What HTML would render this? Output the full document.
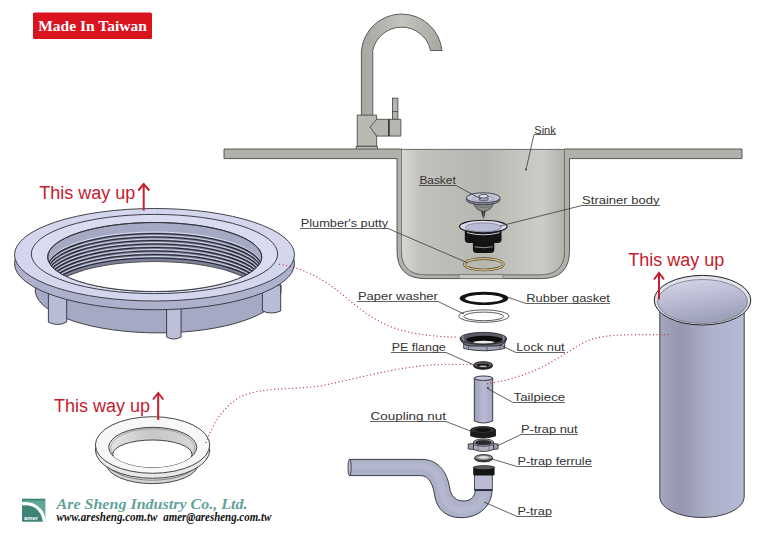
<!DOCTYPE html>
<html><head><meta charset="utf-8"><style>
html,body{margin:0;padding:0;background:#fff;width:768px;height:543px;overflow:hidden}
svg{display:block}
.lb{font-family:"Liberation Sans",sans-serif;font-size:11.5px;fill:#333}
.ul{stroke:#3a3a3a;stroke-width:0.8;fill:none}
.red{font-family:"Liberation Sans",sans-serif;font-size:18px;fill:#c4202e}
.dot{fill:none;stroke:#b8404e;stroke-width:1.2;stroke-dasharray:1.1 2.5}
.ol{stroke:#2c2c30;stroke-width:0.9}
</style></head><body>
<svg width="768" height="543" viewBox="0 0 768 543">
<defs>
  <linearGradient id="sinkG" x1="0" x2="1" y1="0" y2="0">
    <stop offset="0" stop-color="#d8d8d2"/>
    <stop offset="0.12" stop-color="#c2c2bc"/>
    <stop offset="0.5" stop-color="#b7b7b1"/>
    <stop offset="0.86" stop-color="#cdcdc7"/>
    <stop offset="1" stop-color="#b2b2ac"/>
  </linearGradient>
  <linearGradient id="faucG" x1="0" x2="1" y1="0" y2="0">
    <stop offset="0" stop-color="#a6a6a0"/>
    <stop offset="0.5" stop-color="#c4c4be"/>
    <stop offset="1" stop-color="#a8a8a2"/>
  </linearGradient>
  <linearGradient id="cylG" x1="0" x2="1" y1="0" y2="0">
    <stop offset="0" stop-color="#a4a7bd"/>
    <stop offset="0.25" stop-color="#9497ae"/>
    <stop offset="0.6" stop-color="#aeb1ca"/>
    <stop offset="1" stop-color="#b6bad6"/>
  </linearGradient>
  <linearGradient id="pipeG" x1="0" x2="1" y1="0" y2="0">
    <stop offset="0" stop-color="#9c9fb8"/>
    <stop offset="0.5" stop-color="#b8bbd2"/>
    <stop offset="1" stop-color="#a4a7c0"/>
  </linearGradient>
  <linearGradient id="nutTop" x1="0" x2="0" y1="0" y2="1">
    <stop offset="0" stop-color="#c9cce4"/>
    <stop offset="1" stop-color="#d8dbf0"/>
  </linearGradient>
  <clipPath id="holeClip"><ellipse cx="154.7" cy="257" rx="107" ry="34.5"/></clipPath>
  <clipPath id="ringHole"><ellipse cx="152.7" cy="447.3" rx="44" ry="20"/></clipPath>
  <linearGradient id="wallG" x1="0" x2="1" y1="0" y2="0"><stop offset="0" stop-color="#e4e4e4"/><stop offset="0.5" stop-color="#c6c6c6"/><stop offset="1" stop-color="#d8d8d8"/></linearGradient>
  <linearGradient id="cylIn" x1="0" x2="0.3" y1="0" y2="1"><stop offset="0" stop-color="#d6d9ec"/><stop offset="0.6" stop-color="#b4b7ce"/><stop offset="1" stop-color="#9ea1ba"/></linearGradient>
</defs>

<!-- Made In Taiwan badge -->
<rect x="33" y="12.5" width="119" height="26.5" rx="1.5" fill="#d9141f"/>
<text x="92.5" y="30.8" text-anchor="middle" font-family="Liberation Serif" font-weight="bold" font-size="15.5" fill="#fff">Made In Taiwan</text>

<!-- Faucet -->
<g stroke="#3e3e3c" stroke-width="0.8" fill="url(#faucG)">
  <path d="M361.4,115.5 L361.4,50.5 A40.5,40.5 0 0 1 442,50.5 L430.5,50.5 A29.5,29.5 0 0 0 372.8,50.5 L372.8,115.5 Z"/>
  <rect x="392.5" y="98.1" width="5.4" height="21.2" fill="#b4b4ae"/>
  <line x1="392.5" y1="111.6" x2="397.9" y2="111.6"/>
  <path d="M357.2,115.1 L376.6,115.1 L376.6,146.3 L357.2,146.3 Z" fill="#b9b9b3"/>
  <path d="M376.6,119.3 L400.9,119.3 L400.9,136.1 L376.6,136.1 L370.1,127.1 Z" fill="#b6b6b0"/>
  <rect x="356.2" y="146.3" width="21.3" height="3.2" fill="#c0c0ba"/>
</g>
<line x1="388.9" y1="119.3" x2="388.9" y2="136.1" stroke="#2e2e2c" stroke-width="1.6"/>

<!-- Sink outer wall + counter -->
<path d="M224,149 L401.5,149 L401.5,250.7 Q401.5,274.7 425.5,274.7 L540.5,274.7 Q564.5,274.7 564.5,250.7 L564.5,149 L742,149 L742,158.6 L569.5,158.6 L569.5,250.6 Q569.5,278.6 541.5,278.6 L425,278.6 Q397,278.6 397,250.6 L397,158.6 L224,158.6 Z" fill="#b1b1ab" stroke="#4a4a48" stroke-width="0.9"/>
<!-- Sink inner -->
<path d="M401.5,149.6 L401.5,250.7 Q401.5,274.7 425.5,274.7 L540.5,274.7 Q564.5,274.7 564.5,250.7 L564.5,149.6" fill="url(#sinkG)" stroke="#6a6a66" stroke-width="0.7"/>
<line x1="401.5" y1="149.4" x2="564.5" y2="149.4" stroke="#5a5a58" stroke-width="0.9"/>
<rect x="459" y="274.7" width="44" height="3.9" fill="#c8c8c2" stroke="#6a6a66" stroke-width="0.6"/>

<!-- Putty ring -->
<ellipse cx="483.8" cy="264.3" rx="19.5" ry="5.7" fill="none" stroke="#4a4030" stroke-width="2.6"/>
<ellipse cx="483.8" cy="264.3" rx="19.5" ry="5.7" fill="none" stroke="#d8c080" stroke-width="1.4"/>

<!-- Strainer body -->
<g>
  <path d="M472.9,241 L472.9,249.5 Q472.9,253 477,253 L490.2,253 Q494.3,253 494.3,249.5 L494.3,241 Z" fill="#121212"/>
  <path d="M474.5,246.8 Q483.6,248.6 492.7,246.8" stroke="#a0a0a0" stroke-width="0.9" fill="none"/>
  <path d="M464.8,228 L464.8,239.5 Q464.8,243 469,243 L497.3,243 Q501.5,243 501.5,239.5 L501.5,228 Z" fill="#141414"/>
  <path d="M467,232.6 Q483.3,237 499.5,232.6" stroke="#d0d2e0" stroke-width="1" fill="none"/>
  <ellipse cx="483.3" cy="226.5" rx="23.8" ry="6.2" fill="#dadcf0" stroke="#1a1a1e" stroke-width="1.1"/>
  <ellipse cx="483.3" cy="227.3" rx="18" ry="4.4" fill="#babdd6" stroke="#50525e" stroke-width="0.5"/>
</g>

<!-- Basket -->
<g>
  <path d="M481.2,210.5 L485.6,210.5 L484.6,216 L483.4,218.6 L482.2,216 Z" fill="#2a2a2a"/>
  <line x1="483.4" y1="211" x2="483.4" y2="217" stroke="#9a9a9a" stroke-width="0.6"/>
  <path d="M473.9,203.5 L493.2,203.5 Q492,210 483.5,211.5 Q475,210 473.9,203.5 Z" fill="#8e8e8c" stroke="#2e2e2e" stroke-width="0.7"/>
  <path d="M476,206.5 Q483.5,209 491,206.5" fill="none" stroke="#555" stroke-width="0.6"/>
  <ellipse cx="483.2" cy="199.6" rx="16.9" ry="5.3" fill="#8c8fa6" stroke="#2a2a30" stroke-width="0.8"/>
  <ellipse cx="483.2" cy="197.8" rx="16.9" ry="5" fill="#c4c6da" stroke="#2a2a30" stroke-width="0.8"/>
  <ellipse cx="483.2" cy="198.6" rx="11" ry="2.6" fill="none" stroke="#8a8ca0" stroke-width="0.6"/>
  <path d="M479.2,196.2 L479.2,200 Q483.6,202 488,200 L488,196.2 Z" fill="#a4a6ba" stroke="#2a2a30" stroke-width="0.6"/>
  <ellipse cx="483.6" cy="196.2" rx="4.4" ry="1.8" fill="#dfe1ee" stroke="#2a2a30" stroke-width="0.7"/>
</g>

<!-- Labels (sink region) -->
<g class="lb">
  <text x="534.3" y="133.5" textLength="21.5" lengthAdjust="spacingAndGlyphs">Sink</text>
  <text x="419.4" y="184" textLength="36.3" lengthAdjust="spacingAndGlyphs">Basket</text>
  <text x="582.1" y="204" textLength="77.4" lengthAdjust="spacingAndGlyphs">Strainer body</text>
  <text x="300.8" y="226.9" textLength="87.4" lengthAdjust="spacingAndGlyphs">Plumber's putty</text>
  <text x="357.9" y="299.7" textLength="80" lengthAdjust="spacingAndGlyphs">Paper washer</text>
  <text x="526.2" y="301.8" textLength="83.7" lengthAdjust="spacingAndGlyphs">Rubber gasket</text>
  <text x="391.8" y="350.6" textLength="54" lengthAdjust="spacingAndGlyphs">PE flange</text>
  <text x="516.2" y="350.8" textLength="48.5" lengthAdjust="spacingAndGlyphs">Lock nut</text>
  <text x="513.6" y="400.9" textLength="51.6" lengthAdjust="spacingAndGlyphs">Tailpiece</text>
  <text x="370.6" y="420" textLength="75.3" lengthAdjust="spacingAndGlyphs">Coupling nut</text>
  <text x="521" y="433.3" textLength="56.6" lengthAdjust="spacingAndGlyphs">P-trap nut</text>
  <text x="517.4" y="465.2" textLength="74.4" lengthAdjust="spacingAndGlyphs">P-trap ferrule</text>
  <text x="517.4" y="514.5" textLength="34.6" lengthAdjust="spacingAndGlyphs">P-trap</text>
</g>

<circle cx="526" cy="169.5" r="0.9" fill="#333"/>

<!-- Big lock nut (left) -->
<g>
  <!-- skirt -->
  <path d="M35.3,285 L35.3,292 A123,43 0 0 0 281,292 L281,285 Z" fill="#a6a9c4" stroke="#303036" stroke-width="0.9"/>
  <path d="M48.4,285 L48.4,322 Q57.5,327 66.7,322 L66.7,285 Z" fill="#b9bcd6" stroke="#303036" stroke-width="0.9"/>
  <path d="M166.6,306 L166.6,337 Q173.8,341 181.1,337 L181.1,306 Z" fill="#bcbfd8" stroke="#303036" stroke-width="0.9"/>
  <path d="M262.4,285 L262.4,311 Q271.5,315 280.7,311 L280.7,285 Z" fill="#b9bcd6" stroke="#303036" stroke-width="0.9"/>
  <!-- flange side -->
  <ellipse cx="154.5" cy="263.5" rx="140" ry="46.25" fill="#aeb1cc" stroke="#303036" stroke-width="0.9"/>
  <!-- top face -->
  <ellipse cx="154.5" cy="254.75" rx="140" ry="46.25" fill="#d3d6ed" stroke="#303036" stroke-width="0.9"/>
  <ellipse cx="154.5" cy="254" rx="123.2" ry="39.6" fill="#d9dcf0" stroke="#2e2e38" stroke-width="0.9"/>
  <!-- hole -->
  <ellipse cx="154.7" cy="257" rx="107" ry="34.5" fill="#a6a9c3" stroke="#303036" stroke-width="0.9"/>
  <g clip-path="url(#holeClip)" fill="none" stroke="#24262e" stroke-width="1.1">
    <ellipse cx="154.7" cy="267" rx="107" ry="34.5" fill="#7c7f98" stroke="none"/>
    <ellipse cx="154.7" cy="268" rx="107" ry="34.5" stroke="#dfe2f4" stroke-width="0.9" transform="translate(0,-1.5)"/>
    <ellipse cx="154.7" cy="268" rx="107" ry="34.5"/>
    <ellipse cx="154.7" cy="271.5" rx="107" ry="34.5" stroke="#dfe2f4" stroke-width="0.9" transform="translate(0,-1.5)"/>
    <ellipse cx="154.7" cy="271.5" rx="107" ry="34.5"/>
    <ellipse cx="154.7" cy="275" rx="107" ry="34.5" stroke="#dfe2f4" stroke-width="0.9" transform="translate(0,-1.5)"/>
    <ellipse cx="154.7" cy="275" rx="107" ry="34.5"/>
    <ellipse cx="154.7" cy="278.5" rx="107" ry="34.5" stroke="#dfe2f4" stroke-width="0.9" transform="translate(0,-1.5)"/>
    <ellipse cx="154.7" cy="278.5" rx="107" ry="34.5"/>
    <ellipse cx="154.7" cy="282" rx="107" ry="34.5" stroke="#dfe2f4" stroke-width="0.9" transform="translate(0,-1.5)"/>
    <ellipse cx="154.7" cy="282" rx="107" ry="34.5"/>
    <ellipse cx="154.7" cy="285.5" rx="107" ry="34.5" stroke="#dfe2f4" stroke-width="0.9" transform="translate(0,-1.5)"/>
    <ellipse cx="154.7" cy="285.5" rx="107" ry="34.5"/>
    <ellipse cx="154.7" cy="289" rx="107" ry="34.5" stroke="#dfe2f4" stroke-width="0.9" transform="translate(0,-1.5)"/>
    <ellipse cx="154.7" cy="289" rx="107" ry="34.5"/>
    <ellipse cx="154.7" cy="292.5" rx="107" ry="34.5" stroke="#dfe2f4" stroke-width="0.9" transform="translate(0,-1.5)"/>
    <ellipse cx="154.7" cy="292.5" rx="107" ry="34.5"/>
    <ellipse cx="154.7" cy="296" rx="107" ry="34.5" fill="#fff" stroke="#555"/>
  </g>
  <ellipse cx="154.7" cy="257" rx="107" ry="34.5" fill="none" stroke="#303036" stroke-width="0.9"/>
</g>

<!-- Small ring (left bottom) -->
<g stroke="#333" stroke-width="0.9">
  <ellipse cx="152.3" cy="463.6" rx="46" ry="20" fill="#d6d6d6"/>
  <ellipse cx="152.3" cy="460.2" rx="46" ry="20" fill="#e2e2e2" stroke="#555" stroke-width="0.7"/>
  <ellipse cx="152.6" cy="450" rx="57.2" ry="28.3" fill="#e8e8e8"/>
  <ellipse cx="152.6" cy="445" rx="57.2" ry="28.3" fill="#f7f7f7"/>
  <ellipse cx="152.7" cy="447.3" rx="44" ry="20" fill="url(#wallG)"/>
  <ellipse cx="152.7" cy="447.8" rx="42" ry="19" fill="none" stroke="#777" stroke-width="0.5"/>
  <ellipse cx="152.4" cy="454.2" rx="39.6" ry="14.2" fill="#fff" clip-path="url(#ringHole)"/>
</g>

<!-- Right cylinder -->
<g>
  <path d="M659.8,300 L659.8,497 A42.2,20.5 0 0 0 744.2,497 L744.2,300 Z" fill="url(#cylG)" stroke="#303036" stroke-width="0.9"/>
  <ellipse cx="702.5" cy="300.2" rx="48.3" ry="24.8" fill="#e0e2ee" stroke="#222" stroke-width="1"/>
  <ellipse cx="702.5" cy="301.5" rx="45" ry="22" fill="url(#cylIn)" stroke="#555" stroke-width="0.6"/>
</g>

<!-- Center column parts -->
<!-- Rubber gasket -->
<path fill-rule="evenodd" fill="#121212" d="M459.6,298.3 A24.4,6.6 0 1 0 508.4,298.3 A24.4,6.6 0 1 0 459.6,298.3 Z M465.1,298.6 A18.9,3.8 0 1 0 502.9,298.6 A18.9,3.8 0 1 0 465.1,298.6 Z"/>
<!-- Paper washer -->
<ellipse cx="483.8" cy="316.1" rx="25.1" ry="6.2" fill="#fff" stroke="#333" stroke-width="0.8"/>
<ellipse cx="483.8" cy="316.4" rx="19.9" ry="4.3" fill="#fff" stroke="#333" stroke-width="0.8"/>
<!-- Lock nut small -->
<g stroke="#1a1a1e" stroke-width="0.8">
  <path d="M460.5,338.5 L463.7,344 L463.7,348.5 Q484,353 504.7,348.5 L504.7,344 L506.3,338.5 Z" fill="#a4a6b8"/>
  <line x1="468.5" y1="345" x2="468.5" y2="350" stroke="#555"/>
  <line x1="487" y1="346.5" x2="487" y2="351.5" stroke="#555"/>
  <line x1="500" y1="345.5" x2="500" y2="350" stroke="#555"/>
  <path d="M460,338.5 Q462,345 470,346 L497,346 Q505,345 506.5,338.5 Z" fill="#6a6c7a"/>
  <ellipse cx="483.3" cy="338.4" rx="23.3" ry="6" fill="#585a68"/>
  <ellipse cx="484.4" cy="339.6" rx="18.4" ry="3.8" fill="#0c0c0c" stroke="none"/>
  <ellipse cx="483.8" cy="342.1" rx="10.8" ry="1.3" fill="#eeeeee" stroke="none"/>
  <path d="M463,336 Q462,339 464,341" fill="none" stroke="#9a9cae" stroke-width="1"/>
  <path d="M503.5,336 Q505,339 502.5,341" fill="none" stroke="#9a9cae" stroke-width="1"/>
</g>
<!-- PE flange small -->
<ellipse cx="483.1" cy="365.9" rx="9.4" ry="3.4" fill="#2a2a2a" stroke="#111" stroke-width="0.9"/>
<ellipse cx="483.1" cy="364.9" rx="9.4" ry="3.2" fill="#606068" stroke="#111" stroke-width="0.9"/>
<ellipse cx="483.1" cy="365.3" rx="6.6" ry="1.9" fill="#1a1a1a"/>
<ellipse cx="483.1" cy="366.2" rx="4" ry="0.7" fill="#bbb"/>
<!-- Tailpiece -->
<path d="M474.3,378 L474.3,421 Q483.5,425 492.7,421 L492.7,378 Z" fill="url(#pipeG)" stroke="#2a2a30" stroke-width="0.9"/>
<ellipse cx="483.5" cy="378.2" rx="9.2" ry="2.2" fill="#c8cade" stroke="#2a2a30" stroke-width="0.9"/>
<circle cx="488" cy="388" r="0.9" fill="#333"/>
<!-- Coupling nut -->
<path d="M470.7,430 L470.7,436 Q483,440 495.5,436 L495.5,430 Z" fill="#1c1c1c" stroke="#111" stroke-width="0.8"/>
<ellipse cx="483.1" cy="430" rx="12.4" ry="3.4" fill="#333" stroke="#111" stroke-width="0.8"/>
<ellipse cx="483.1" cy="430" rx="8" ry="1.8" fill="#111"/>
<!-- P-trap nut -->
<g stroke="#222" stroke-width="0.8">
  <path d="M468.2,444 L474,443.5 L474,449.5 L468.2,449 Z" fill="#9a9cb0"/>
  <path d="M498,444 L493,443.5 L493,449.5 L498,449 Z" fill="#9a9cb0"/>
  <path d="M473.5,442 L473.5,449.5 Q483.5,453.5 493.5,449.5 L493.5,442 Z" fill="#aeb0c4"/>
  <line x1="478" y1="445" x2="478" y2="451" stroke="#555" stroke-width="0.6"/>
  <line x1="489" y1="445" x2="489" y2="451" stroke="#555" stroke-width="0.6"/>
  <ellipse cx="483.5" cy="442" rx="10" ry="2.9" fill="#c4c6d6"/>
  <ellipse cx="483.5" cy="442.4" rx="8" ry="2" fill="#2a2a30"/>
  <path d="M474,445 Q483.5,448 493,445" fill="none" stroke="#333" stroke-width="0.7"/>
</g>
<!-- Ferrule -->
<ellipse cx="483.6" cy="458.6" rx="9" ry="3.3" fill="#555" stroke="#1a1a1a" stroke-width="0.8"/>
<ellipse cx="483.6" cy="457.6" rx="9" ry="3" fill="#9a9a9a" stroke="#1a1a1a" stroke-width="0.8"/>
<ellipse cx="483.6" cy="457.4" rx="6.2" ry="1.8" fill="#e4e4e4" stroke="#333" stroke-width="0.5"/>
<!-- P-trap -->
<path d="M349.4,459.4 L422,459.4 C438,459.4 447,472 449.5,487 C451,497 456,501 464,501 C471,501 475.3,496 475.3,490 L492,490 C492,505 480,517.7 461,517.7 C445,517.7 437,508 435,497 C433,485 430,476 420.7,475.6 L349.4,475.6 Z" fill="#adb0c9" stroke="#2a2a34" stroke-width="0.9"/>
<path d="M351,466 L421,466 C435,467 440,478 442,490 C444,503 450,510 462,510 C476,510 483,502 484,494" fill="none" stroke="#bfc2d8" stroke-width="7" opacity="0.45"/>
<ellipse cx="349.6" cy="467.5" rx="1.6" ry="8.1" fill="#b8bbd2" stroke="#2a2a34" stroke-width="0.8"/>
<rect x="474.6" y="474.5" width="17.7" height="15.5" fill="#b9bcd2" stroke="#2a2a34" stroke-width="0.8"/>
<line x1="474.6" y1="490" x2="492.3" y2="490" stroke="#1e2030" stroke-width="1.6"/>
<rect x="473.2" y="466.6" width="21.4" height="9" rx="1.5" fill="#141414"/>
<ellipse cx="483.9" cy="467.6" rx="10.5" ry="2.1" fill="#5a5a5a" stroke="#111" stroke-width="0.6"/>

<g class="ul">
  <polyline points="556,134.5 534,134.5 526,169.5"/>
  <polyline points="419,185.5 456,185.5 481,199"/>
  <polyline points="660,205.5 582,205.5 500,226"/>
  <polyline points="300,228.5 388,228.5 468,263"/>
  <polyline points="357,301.5 438,301.5 464,314"/>
  <polyline points="610,303.5 526,303.5 507,297"/>
  <polyline points="391,352.5 446,352.5 474,365"/>
  <polyline points="565,352.5 516,352.5 500,345"/>
  <polyline points="565,402.5 513,402.5 487.5,388.5"/>
  <polyline points="370,421.5 446,421.5 473,432"/>
  <polyline points="578,434.5 521,434.5 497,446"/>
  <polyline points="592,466.5 517,466.5 492,459"/>
  <polyline points="552,516.5 517,516.5 484,502"/>
</g>

<!-- red texts and arrows -->
<g class="red">
  <text x="39.3" y="198.7">This way up</text>
  <text x="628.3" y="266.2">This way up</text>
  <text x="53.9" y="412.2">This way up</text>
</g>
<g stroke="#c4202e" stroke-width="2" fill="none">
  <line x1="143.7" y1="184.5" x2="143.7" y2="210.5"/>
  <polyline points="138.3,190.5 143.7,184 149.3,190.5"/>
  <line x1="659" y1="273.5" x2="659" y2="299.3"/>
  <polyline points="654,279.5 659,273 664,279.5"/>
  <line x1="158.2" y1="393.5" x2="158.2" y2="420"/>
  <polyline points="153,399.5 158.2,393 163.4,399.5"/>
</g>

<!-- dotted lines -->
<path class="dot" d="M279,264.3 C305,268 325,280 345.5,297 C365,314 385,328 413,333 C430,336 445,337 457.5,337.2"/>
<path class="dot" d="M206,443 C212,425 222,408 240,397 C260,387 290,390 320,386 C360,378 400,366 440,364.5 L474,364.5"/>
<path class="dot" d="M487,383.8 C505,381 520,377 540,368 C560,358 570,350 585,342 C600,335 615,334.3 669,334.6"/>

<!-- Logo -->
<rect x="22" y="498.7" width="23.2" height="23" fill="#3d8377"/>
<path d="M22,500.5 L45.2,500.5 L45.2,521.7 Q42,503 22,503 Z" fill="#5fa797"/>
<path d="M22,503.8 Q28,503 33,505 Q42.5,509 44.6,521.7" fill="none" stroke="#fff" stroke-width="3.2"/>
<text x="24" y="519.8" font-family="Liberation Sans" font-weight="bold" font-size="4.5" fill="#fff" textLength="14" lengthAdjust="spacingAndGlyphs">amer</text>
<text x="56.5" y="508.6" font-family="Liberation Serif" font-style="italic" font-weight="bold" font-size="14.8" fill="#63a199" textLength="191" lengthAdjust="spacingAndGlyphs">Are Sheng Industry Co., Ltd.</text>
<text x="56.5" y="520.5" font-family="Liberation Serif" font-style="italic" font-weight="bold" font-size="11.5" fill="#111" textLength="100.8" lengthAdjust="spacingAndGlyphs">www.aresheng.com.tw</text>
<text x="163.3" y="520.5" font-family="Liberation Serif" font-style="italic" font-weight="bold" font-size="11.5" fill="#111" textLength="107.9" lengthAdjust="spacingAndGlyphs">amer@aresheng.com.tw</text>
</svg>
</body></html>
